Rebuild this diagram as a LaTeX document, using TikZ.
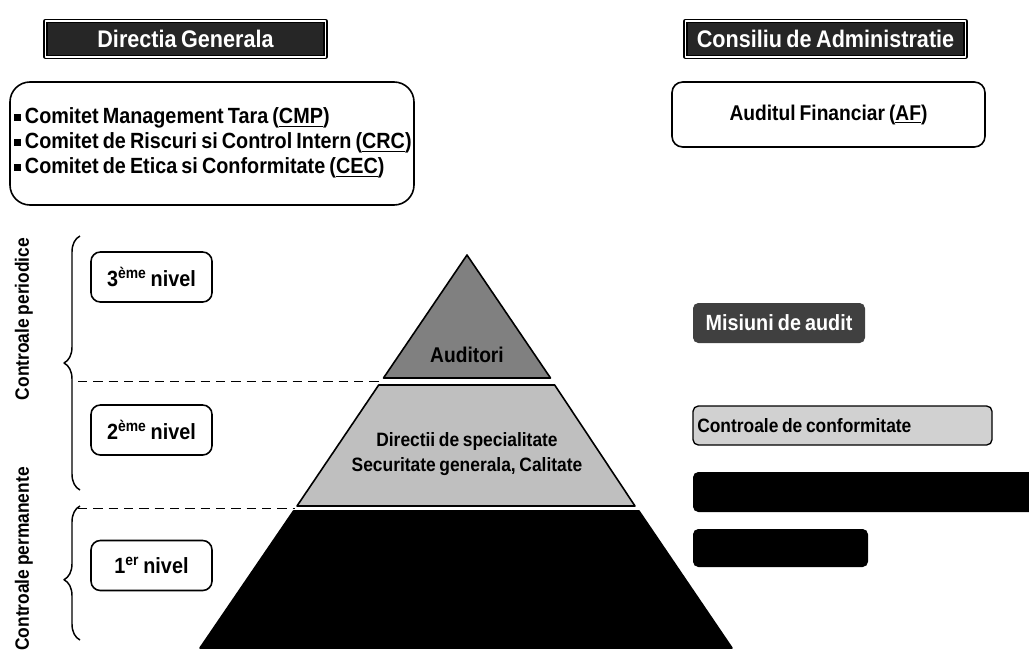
\documentclass[tikz,border=0pt]{standalone}
\usepackage{fontspec}
\setmainfont{Liberation Sans}[FakeStretch=0.9,WordSpace=0.75]
\usetikzlibrary{decorations.pathreplacing}
\newcommand\sqbul{\rule[0.25ex]{0.32em}{0.32em}\,}
\begin{document}
\begin{tikzpicture}[x=0.75pt,y=-0.75pt,line join=round,
  hdr/.style={draw=black,line width=0.9pt,double=white,double distance=1.4pt,fill=black!85,text=white,
    font=\fontsize{18}{20}\selectfont\bfseries,inner sep=0pt,minimum width=210pt,minimum height=27pt},
  rbox/.style={draw=black,line width=1.2pt,fill=white,inner sep=0pt,font=\fontsize{15.5}{18}\selectfont\bfseries},
  lvl/.style={rbox,rounded corners=7pt,minimum width=90.75pt,minimum height=37.5pt,font=\fontsize{16.5}{18}\selectfont\bfseries},
  side/.style={font=\fontsize{14.5}{17}\selectfont\bfseries,rotate=90},
  pyr/.style={draw=black,line width=1.2pt},
  ptext/.style={font=\fontsize{14.5}{18.75}\selectfont\bfseries,align=center},
  tag/.style={rounded corners=4pt,inner sep=0pt,font=\fontsize{14}{15}\selectfont\bfseries},
  dashline/.style={line width=1.2pt,dash pattern=on 7pt off 4.5pt},
  bracket/.style={line width=1.1pt,decorate,decoration={brace,amplitude=12pt}}]
\useasboundingbox (0,0) rectangle (1029,653);

% headers
\node[hdr] (dg) at (185.5,39) {Directia Generala};
\node[hdr] (ca) at (825.5,39) {Consiliu de Administratie};

% committees box
\node[rbox,rounded corners=15pt,minimum width=303pt,minimum height=92.25pt] (com) at (212,143.5) {};
\node[anchor=west,align=left,inner sep=0pt,font=\fontsize{16.5}{18.75}\selectfont\bfseries] (comtext) at (14,143)
  {\sqbul Comitet Management Tara (\underline{CMP})\\
   \sqbul Comitet de Riscuri si Control Intern (\underline{CRC})\\
   \sqbul Comitet de Etica si Conformitate (\underline{CEC})};

% audit financiar
\node[rbox,rounded corners=8pt,minimum width=234.75pt,minimum height=48.75pt,font=\fontsize{16}{18}\selectfont\bfseries] (af) at (828.5,114.5)
  {Auditul Financiar (\underline{AF})};

% side labels and braces
\node[side] (cper) at (24,319) {Controale periodice};
\node[side] (cperm) at (24,559) {Controale permanente};
\coordinate (b1s) at (80,490);
\coordinate (b1e) at (80,236);
\coordinate (b2s) at (80,640);
\coordinate (b2e) at (80,506);
\draw[bracket] (b1s) -- (b1e);
\draw[bracket,decoration={aspect=0.45}] (b2s) -- (b2e);

% level boxes
\node[lvl] (n3) at (151.5,277) {3\textsuperscript{ème} nivel};
\node[lvl] (n2) at (151.5,430) {2\textsuperscript{ème} nivel};
\node[lvl] (n1) at (151.5,565.5) {1\textsuperscript{er} nivel};

% pyramid
\coordinate (apex) at (467,255);
\coordinate (t1l) at (383.5,378);
\coordinate (t1r) at (550.5,378);
\coordinate (t2l) at (378.7,385);
\coordinate (t2r) at (554.7,385);
\coordinate (t3l) at (297,506);
\coordinate (t3r) at (635,506);
\coordinate (t4l) at (293.5,511);
\coordinate (t4r) at (639,511);
\coordinate (t5l) at (200,648);
\coordinate (t5r) at (732,648);
\filldraw[pyr,fill=black!50] (apex) -- (t1r) -- (t1l) -- cycle;
\filldraw[pyr,fill=black!25] (t2l) -- (t2r) -- (t3r) -- (t3l) -- cycle;
\filldraw[pyr,fill=black] (t4l) -- (t4r) -- (t5r) -- (t5l) -- cycle;
\node[ptext,font=\fontsize{16}{18}\selectfont\bfseries] (aud) at (467,355) {Auditori};
\node[ptext] (dir) at (467,454) {Directii de specialitate\\Securitate generala, Calitate};

% dashed separators
\coordinate (d1) at (78,381.5);
\coordinate (d1e) at (382,381.5);
\coordinate (d2) at (78,508.5);
\coordinate (d2e) at (295,508.5);
\draw[dashline] (d1) -- (d1e);
\draw[dashline] (d2) -- (d2e);

% right tags
\node[tag,fill=black!75,text=white,minimum width=129pt,minimum height=30pt,font=\fontsize{16.5}{18}\selectfont\bfseries] (mis) at (779,323) {Misiuni de audit};
\node[tag,draw=black,line width=1pt,fill=black!18,minimum width=224.25pt,minimum height=29.25pt] (conf) at (842.5,425.5) {};
\node[anchor=west,inner sep=0pt,font=\fontsize{14.5}{15}\selectfont\bfseries] (conftext) at (697,425.5) {Controale de conformitate};
\node[tag,fill=black,minimum width=256.5pt,minimum height=30pt] (blk1) at (864,492) {};
\node[tag,fill=black,minimum width=131.25pt,minimum height=28.5pt] (blk2) at (780.5,548) {};
\end{tikzpicture}
\end{document}
